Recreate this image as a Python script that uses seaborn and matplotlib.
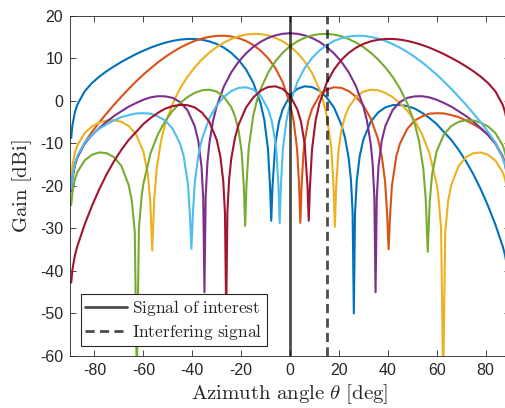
import matplotlib
matplotlib.use('Agg')
import matplotlib.pyplot as plt
from matplotlib.lines import Line2D
import seaborn as sns
import pandas as pd

# beam patterns (azimuth in deg, gain in dBi)
blue_theta = [-89.5, -89, -88, -87, -84, -81, -78, -75, -72, -69, -66, -63, -60, -57, -54, -51, -48, -45, -42, -39,
              -36, -33, -30, -27, -24, -21, -18, -15, -12, -10.5, -9, -8.17, -7.67, -7.17, -6, -4.5, -3, 0, 3, 6,
              9, 12, 15, 18, 21, 22.5, 24, 24.9, 25.6, 26.11, 26.6, 27.3, 28.5, 30, 33, 36, 39, 42, 45, 48,
              51, 54, 57, 60, 63, 66, 69, 72, 75, 78, 81, 84, 87, 88, 89, 89.5]
blue_gain = [-8.72, -5.70, -2.68, -0.89, 2.25, 4.20, 5.70, 6.98, 8.11, 9.15, 10.09, 10.99, 11.78, 12.52, 13.14, 13.68,
             14.10, 14.40, 14.55, 14.55, 14.37, 13.98, 13.38, 12.49, 11.27, 9.62, 7.38, 4.23, -0.67, -4.54, -11.42,
             -20.10, -28.2, -20.23, -10.08, -4.91, -2.01, 1.24, 2.82, 3.42, 3.25, 2.40, 0.82, -1.58, -5.58, -8.67,
             -13.46, -18.39, -25.99, -50.0, -26.47, -18.88, -13.05, -9.13, -4.93, -2.76, -1.54, -1.01, -0.95, -1.24,
             -1.82, -2.80, -4.03, -5.45, -7.35, -9.20, -11.53, -14.21, -17.26, -20.74, -24.68, -29.07, -34.17, -36.36,
             -39.64, -42.73]

orange_theta = [-89.5, -89, -88, -87, -84, -81, -78, -75, -72, -69, -66, -63, -60, -57, -54, -51, -48, -45, -42, -39,
                -36, -33, -30, -27, -24, -21, -18, -15, -12, -9, -6, -3, 0, 1.5, 2.9, 3.7, 4.22, 4.72, 5.5, 6,
                7.5, 9, 12, 15, 18, 21, 24, 27, 30, 33, 36, 37.5, 38.9, 39.7, 40.33, 40.9, 41.7, 43.5, 45, 48,
                51, 54, 57, 60, 63, 66, 69, 72, 75, 78, 81, 84, 87, 88, 89, 89.5]
orange_gain = [-21.26, -18.24, -15.17, -13.32, -9.81, -7.28, -5.03, -2.94, -0.93, 0.97, 2.81, 4.54, 6.17, 7.66, 9.07,
               10.34, 11.48, 12.50, 13.35, 14.09, 14.65, 15.05, 15.28, 15.31, 15.14, 14.73, 14.08, 13.12, 11.80, 10.06,
               7.72, 4.42, -0.67, -4.80, -11.34, -19.60, -28.7, -20.22, -12.27, -9.54, -4.66, -1.91, 1.19, 2.66, 3.19,
               3.05, 2.31, 0.96, -1.08, -4.12, -8.95, -12.84, -18.98, -26.23, -34.9, -27.35, -19.89, -13.00, -10.02,
               -6.56, -4.64, -3.67, -3.01, -2.91, -2.96, -3.35, -3.82, -4.60, -5.50, -6.55, -7.94, -9.84, -12.93,
               -14.70, -17.72, -20.74]

yellow_theta = [-89.5, -89, -88, -87, -84, -81, -78, -75, -72, -69, -66, -63, -60, -58.15, -57.15, -56.35, -55.55,
                -54.55, -52.8, -51, -48, -45, -42, -39, -36, -33, -30, -27, -24, -21, -18, -15, -12, -9, -6, -3, 0,
                3, 6, 9, 12, 13.5, 15, 16.9, 17.8, 18.35, 18.9, 19.8, 21, 22.5, 24, 27, 30, 33, 36, 39, 42, 45, 48,
                51, 54, 57, 60, 60.67, 61.8, 62.67, 63.5, 64.7, 66, 69, 72, 75, 78, 81, 84, 87, 88, 89, 89.5]
yellow_gain = [-18.19, -15.18, -12.19, -10.45, -7.56, -6.01, -5.12, -4.63, -4.56, -4.94, -5.91, -7.85, -11.85, -17.20,
               -23.72, -35.2, -23.34, -15.99, -9.51, -5.36, -0.60, 2.88, 5.62, 7.87, 9.76, 11.34, 12.65, 13.71, 14.55,
               15.19, 15.58, 15.75, 15.69, 15.40, 14.83, 13.99, 12.85, 11.30, 9.28, 6.57, 2.76, 0.15, -3.38, -11.11,
               -19.78, -29.6, -20.03, -11.89, -7.04, -3.65, -1.51, 0.92, 2.19, 2.62, 2.49, 1.87, 0.86, -0.54, -2.31,
               -4.70, -7.84, -12.22, -19.58, -22.27, -29.88, -66.0, -30.86, -23.50, -19.77, -15.29, -13.24, -12.31,
               -12.13, -12.67, -14.01, -16.77, -18.48, -21.47, -24.47]

purple_theta = [-89.5, -89, -88, -87, -84, -81, -78, -75, -72, -69, -66, -63, -60, -57, -54, -51, -48, -45, -42, -39,
                -37.5, -36.2, -35.5, -35, -34.5, -33.8, -33, -31.5, -30, -27, -24, -21, -18, -15, -12, -9, -6, -3,
                0, 3, 6, 9, 12, 15, 18, 21, 24, 27, 30, 31.5, 33, 33.8, 34.5, 35, 35.5, 36.2, 37.5, 39, 42, 45,
                48, 51, 54, 57, 60, 63, 66, 69, 72, 75, 78, 81, 84, 87, 88, 89, 89.5]
purple_gain = [-21.09, -18.07, -15.04, -13.25, -10.07, -8.02, -6.38, -4.90, -3.57, -2.45, -1.37, -0.51, 0.26, 0.82,
               1.10, 1.05, 0.71, -0.27, -2.14, -5.91, -9.48, -15.43, -22.83, -45.0, -22.48, -14.68, -10.03, -4.76,
               -1.30, 3.43, 6.73, 9.21, 11.16, 12.70, 13.89, 14.79, 15.39, 15.77, 15.90, 15.77, 15.39, 14.79, 13.89,
               12.70, 11.16, 9.21, 6.73, 3.43, -1.30, -4.76, -10.03, -14.68, -22.48, -45.0, -22.83, -15.43, -9.48,
               -5.91, -2.14, -0.27, 0.71, 1.05, 1.10, 0.82, 0.26, -0.51, -1.37, -2.45, -3.57, -4.90, -6.38, -8.02,
               -10.07, -13.25, -15.04, -18.07, -21.09]

green_theta = [-89.5, -89, -88, -87, -84, -81, -78, -75, -72, -69, -66, -64.7, -63.5, -62.67, -61.8, -60.67, -60,
               -57, -54, -51, -48, -45, -42, -39, -36, -33, -30, -27, -24, -22.5, -21, -19.8, -18.9, -18.35, -17.8,
               -16.9, -15, -13.5, -12, -9, -6, -3, 0, 3, 6, 9, 12, 15, 18, 21, 24, 27, 30, 33, 36, 39, 42, 45, 48,
               51, 52.8, 54.55, 55.55, 56.35, 57.15, 58.15, 60, 63, 66, 69, 72, 75, 78, 81, 84, 87, 88, 89, 89.5]
green_gain = [-24.47, -21.47, -18.48, -16.77, -14.01, -12.67, -12.13, -12.31, -13.24, -15.29, -19.77, -23.50, -30.86,
              -66.0, -29.88, -22.27, -19.58, -12.22, -7.84, -4.70, -2.31, -0.54, 0.86, 1.87, 2.49, 2.62, 2.19, 0.92,
              -1.51, -3.65, -7.04, -11.89, -20.03, -29.4, -19.78, -11.11, -3.38, 0.15, 2.76, 6.57, 9.28, 11.30, 12.85,
              13.99, 14.83, 15.40, 15.69, 15.75, 15.58, 15.19, 14.55, 13.71, 12.65, 11.34, 9.76, 7.87, 5.62, 2.88,
              -0.60, -5.36, -9.51, -15.99, -23.34, -35.5, -23.72, -17.20, -11.85, -7.85, -5.91, -4.94, -4.56, -4.63,
              -5.12, -6.01, -7.56, -10.45, -12.19, -15.18, -18.19]

lightblue_theta = [-89.5, -89, -88, -87, -84, -81, -78, -75, -72, -69, -66, -63, -60, -57, -54, -51, -48, -45, -43.5,
                   -41.7, -40.9, -40.33, -39.7, -38.9, -37.5, -36, -33, -30, -27, -24, -21, -18, -15, -12, -9, -7.5,
                   -6, -5.5, -4.72, -4.22, -3.7, -2.9, -1.5, 0, 3, 6, 9, 12, 15, 18, 21, 24, 27, 30, 33, 36, 39, 42,
                   45, 48, 51, 54, 57, 60, 63, 66, 69, 72, 75, 78, 81, 84, 87, 88, 89, 89.5]
lightblue_gain = [-20.74, -17.72, -14.70, -12.93, -9.84, -7.94, -6.55, -5.50, -4.60, -3.82, -3.35, -2.96, -2.91, -3.01,
                  -3.67, -4.64, -6.56, -10.02, -13.00, -19.89, -27.35, -34.8, -26.23, -18.98, -12.84, -8.95, -4.12,
                  -1.08, 0.96, 2.31, 3.05, 3.19, 2.66, 1.19, -1.91, -4.66, -9.54, -12.27, -20.22, -28.8, -19.60,
                  -11.34, -4.80, -0.67, 4.42, 7.72, 10.06, 11.80, 13.12, 14.08, 14.73, 15.14, 15.31, 15.28, 15.05,
                  14.65, 14.09, 13.35, 12.50, 11.48, 10.34, 9.07, 7.66, 6.17, 4.54, 2.81, 0.97, -0.93, -2.94, -5.03,
                  -7.28, -9.81, -13.32, -15.17, -18.24, -21.26]

red_theta = [-89.5, -89, -88, -87, -84, -81, -78, -75, -72, -69, -66, -63, -60, -57, -54, -51, -48, -45, -42, -39,
             -36, -33, -30, -28.5, -27.3, -26.6, -26.11, -25.6, -24.9, -24, -22.5, -21, -18, -15, -12, -9, -6, -3,
             0, 3, 4.5, 6, 7.17, 7.67, 8.17, 9, 10.5, 12, 15, 18, 21, 24, 27, 30, 33, 36, 39, 42, 45, 48, 51,
             54, 57, 60, 63, 66, 69, 72, 75, 78, 81, 84, 87, 88, 89, 89.5]
red_gain = [-42.73, -39.64, -36.36, -34.17, -29.07, -24.68, -20.74, -17.26, -14.21, -11.53, -9.20, -7.35, -5.45, -4.03,
            -2.80, -1.82, -1.24, -0.95, -1.01, -1.54, -2.76, -4.93, -9.13, -13.05, -18.88, -26.47, -50.0, -25.99,
            -18.39, -13.46, -8.67, -5.58, -1.58, 0.82, 2.40, 3.25, 3.42, 2.82, 1.24, -2.01, -4.91, -10.08, -20.23,
            -28.2, -20.10, -11.42, -4.54, -0.67, 4.23, 7.38, 9.62, 11.27, 12.49, 13.38, 13.98, 14.37, 14.55, 14.55,
            14.40, 14.10, 13.68, 13.14, 12.52, 11.78, 10.99, 10.09, 9.15, 8.11, 6.98, 5.70, 4.20, 2.25, -0.89,
            -2.68, -5.70, -8.72]

soi_angle = 0
interferer_angle = 15

beams = ['blue', 'orange', 'yellow', 'purple', 'green', 'lightblue', 'red']
colors = ['#0072BD', '#D95319', '#EDB120', '#7E2F8E', '#77AC30', '#4DBEEE', '#A2142F']
thetas = [blue_theta, orange_theta, yellow_theta, purple_theta, green_theta, lightblue_theta, red_theta]
gains = [blue_gain, orange_gain, yellow_gain, purple_gain, green_gain, lightblue_gain, red_gain]

frames = []
for name, th, g in zip(beams, thetas, gains):
    frames.append(pd.DataFrame({'theta': th, 'gain': g, 'beam': name}))
df = pd.concat(frames, ignore_index=True)

sns.set_style('ticks')
plt.rcParams['font.family'] = ['Liberation Sans', 'DejaVu Sans']
plt.rcParams['mathtext.fontset'] = 'cm'
plt.rcParams['axes.unicode_minus'] = False

fig = plt.figure(figsize=(5.05, 4.08), dpi=100)
ax = fig.add_axes([70 / 505, 52 / 408, 440 / 505, 340.2 / 408])

sns.lineplot(data=df, x='theta', y='gain', hue='beam', hue_order=beams, palette=colors,
             estimator=None, sort=False, legend=False, linewidth=1.5, ax=ax)

ax.axvline(soi_angle, color='k', alpha=0.7, lw=2, zorder=5)
ax.axvline(interferer_angle, color='k', alpha=0.7, lw=2, dashes=(3.3, 1.9), zorder=5)

ax.set_xlim(-90, 90)
ax.set_ylim(-60, 20)
ax.set_xticks(range(-80, 81, 20))
ax.set_yticks(range(-60, 21, 10))
ax.tick_params(direction='in', top=True, right=True, length=4, width=0.6,
               labelsize=11.5, pad=5, colors='#262626')
for sp in ax.spines.values():
    sp.set_color('#262626')
    sp.set_linewidth(0.6)

ax.set_xlabel(r'$\mathrm{Azimuth\ angle}\ \theta\ \mathrm{[deg]}$', fontsize=15, labelpad=3)
ax.set_ylabel(r'$\mathrm{Gain\ [dBi]}$', fontsize=15, labelpad=4)

handles = [Line2D([], [], color='k', alpha=0.7, lw=2),
           Line2D([], [], color='k', alpha=0.7, lw=2, dashes=(3.3, 1.9))]
labels = [r'$\mathrm{Signal\ of\ interest}$', r'$\mathrm{Interfering\ signal}$']
leg = ax.legend(handles, labels, loc='lower left', bbox_to_anchor=(0.025, 0.029), borderaxespad=0,
                fontsize=12.5, handlelength=2.4, handletextpad=0.3, labelspacing=0.2,
                borderpad=0.25, fancybox=False, framealpha=1)
leg.get_frame().set_edgecolor('#262626')
leg.get_frame().set_linewidth(0.8)

fig.savefig('out.png', dpi=100)
